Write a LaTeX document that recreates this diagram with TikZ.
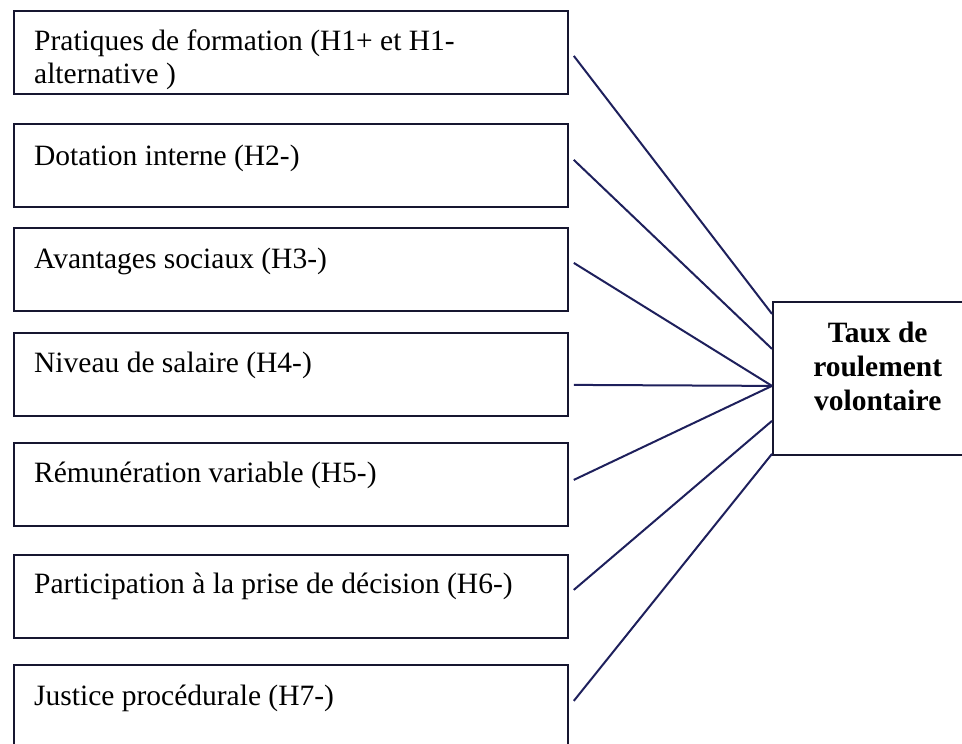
\documentclass[tikz,border=0pt]{standalone}
\usepackage{fontspec}
\setmainfont{Liberation Serif}
\usetikzlibrary{calc}
\definecolor{boxline}{RGB}{22,22,48}
\definecolor{linkline}{RGB}{30,32,92}

\begin{document}
\begin{tikzpicture}[x=1pt, y=-1pt,
        factor/.style={draw=boxline, line width=1.8pt, minimum width=554pt,
            minimum height=83pt, inner sep=0pt, anchor=north west},
        factortext/.style={anchor=base west, inner sep=0pt, align=left,
            font=\fontsize{29.5}{33}\selectfont},
        link/.style={draw=linkline, line width=2pt}]
        \useasboundingbox (0,0) rectangle (962,744);
        % The seven boxes on the left.
            \node[factor] (f1) at (13,10) {};
            \node[factor] (f2) at (13,123) {};
            \node[factor] (f3) at (13,227) {};
            \node[factor] (f4) at (13,332) {};
            \node[factor] (f5) at (13,442) {};
            \node[factor] (f6) at (13,554) {};
            \node[factor] (f7) at (13,664) {};
        % Below nodes are the labels.
            \node[factortext] (t1) at (34,83) {Pratiques de formation (H1+ et H1-\\alternative )};
            \node[factortext] (t2) at (34,165) {Dotation interne (H2-)};
            \node[factortext] (t3) at (34,268) {Avantages sociaux (H3-)};
            \node[factortext] (t4) at (34,372) {Niveau de salaire (H4-)};
            \node[factortext] (t5) at (34,482) {Rémunération variable (H5-)};
            \node[factortext] (t6) at (34,593) {Participation à la prise de décision (H6-)};
            \node[factortext] (t7) at (34,705) {Justice procédurale (H7-)};
        % The box on the right, cut by the page edge.
            \node[draw=boxline, line width=1.8pt, minimum width=211pt, minimum height=153pt,
                inner sep=0pt, anchor=north west] (tgt) at (772,301) {};
            \node[anchor=base, inner sep=0pt, align=center,
                font=\fontsize{29.5}{34}\selectfont\bfseries] (tgttext) at (877.7,410)
                {Taux de\\roulement\\volontaire};
        % This draws the connectors.
            \draw[link] ($(f1.east)+(5,3.5)$) -- ($(tgt.west)+(0,-64.5)$);
            \draw[link] ($(f2.east)+(5,-5.5)$) -- ($(tgt.west)+(0,-29.5)$);
            \draw[link] ($(f3.east)+(5,-6.5)$) -- ($(tgt.west)+(0,7.5)$);
            \draw[link] ($(f4.east)+(5,10.5)$) -- ($(tgt.west)+(0,7.5)$);
            \draw[link] ($(f5.east)+(5,-4.5)$) -- ($(tgt.west)+(0,7.5)$);
            \draw[link] ($(f6.east)+(5,-6.5)$) -- ($(tgt.west)+(0,42.5)$);
            \draw[link] ($(f7.east)+(5,-5.5)$) -- ($(tgt.west)+(0,75.5)$);
\end{tikzpicture}
\end{document}
